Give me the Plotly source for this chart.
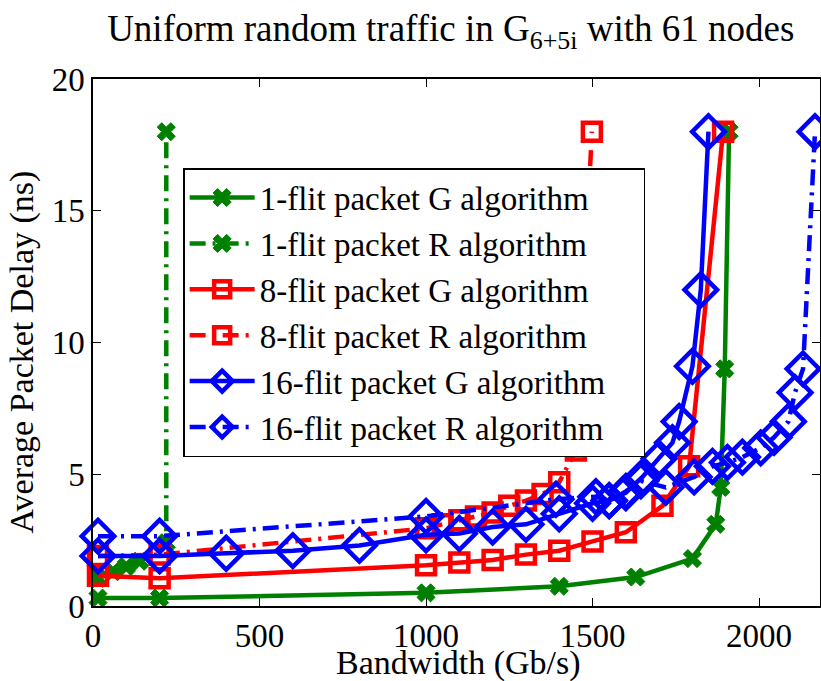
import plotly.graph_objects as go

# 1-flit packet G algorithm
g1_x = [15, 200, 1000, 1400, 1630, 1800, 1870, 1885, 1897, 1910]
g1_y = [0.3, 0.3, 0.5, 0.75, 1.1, 1.8, 3.1, 4.5, 9.0, 18.0]
# 1-flit packet R algorithm
r1_x = [15, 60, 100, 140, 220, 220]
r1_y = [1.05, 1.3, 1.5, 1.7, 2.4, 18.0]
# 8-flit packet G algorithm
g8_x = [15, 200, 1000, 1100, 1200, 1300, 1400, 1500, 1600, 1710, 1790, 1892]
g8_y = [1.15, 1.05, 1.55, 1.65, 1.75, 1.95, 2.1, 2.45, 2.8, 3.8, 5.3, 18.0]
# 8-flit packet R algorithm
r8_x = [15, 200, 1000, 1050, 1100, 1150, 1200, 1250, 1300, 1350, 1400, 1450, 1498]
r8_y = [1.9, 1.95, 2.95, 3.1, 3.25, 3.4, 3.55, 3.8, 4.0, 4.25, 4.7, 5.9, 18.0]
# 16-flit packet G algorithm
g16_x = [15, 200, 400, 600, 800, 1000, 1100, 1200, 1300, 1400, 1500, 1550, 1600,
         1650, 1700, 1740, 1760, 1800, 1825, 1848]
g16_y = [1.9, 1.9, 2.0, 2.1, 2.3, 2.7, 2.75, 3.0, 3.1, 3.5, 3.9, 4.0, 4.3,
         4.9, 5.6, 6.2, 7.0, 9.1, 12.0, 18.0]
# 16-flit packet R algorithm
r16_x = [15, 200, 1000, 1390, 1510, 1550, 1600, 1645, 1720, 1805, 1860, 1905,
         1950, 2005, 2045, 2088, 2108, 2132, 2168]
r16_y = [2.65, 2.65, 3.4, 4.05, 4.15, 4.0, 4.35, 4.75, 4.5, 4.9, 5.3, 5.45,
         5.65, 6.0, 6.4, 7.0, 8.1, 9.0, 18.0]

names = ["1-flit packet G algorithm", "1-flit packet R algorithm",
         "8-flit packet G algorithm", "8-flit packet R algorithm",
         "16-flit packet G algorithm", "16-flit packet R algorithm"]

x_ticks = [0, 500, 1000, 1500, 2000]
y_ticks = [0, 5, 10, 15, 20]

GREEN = "#008000"
RED = "#FF0000"
BLUE = "#0000FF"
DASHDOT = "16px,7px,3px,7px"
PAD = "\u00a0" * 4

fig = go.Figure()

def add(x, y, name, color, dash, symbol, size, lw):
    fig.add_trace(go.Scatter(
        x=x, y=y, name=name + PAD, mode="lines+markers", cliponaxis=False,
        line=dict(color=color, width=4.5, dash=dash),
        marker=dict(symbol=symbol, size=size, color=color,
                    line=dict(color=color, width=lw)),
    ))

add(g1_x, g1_y, names[0], GREEN, "solid", "x", 16, 1)
add(r1_x, r1_y, names[1], GREEN, DASHDOT, "x", 16, 1)
add(g8_x, g8_y, names[2], RED, "solid", "square-open", 18, 4.5)
add(r8_x, r8_y, names[3], RED, DASHDOT, "square-open", 18, 4.5)
add(g16_x, g16_y, names[4], BLUE, "solid", "diamond-open", 25, 4.5)
add(r16_x, r16_y, names[5], BLUE, DASHDOT, "diamond-open", 25, 4.5)

FONT = "Liberation Serif"

axis_common = dict(
    showgrid=False, zeroline=False, showline=True, linecolor="black",
    linewidth=1.5, mirror="ticks", ticks="inside", ticklen=8,
    tickcolor="black", automargin=False,
    tickfont=dict(size=33, color="black", family=FONT),
)

fig.update_layout(
    width=821, height=681,
    margin=dict(l=93, r=1, t=79, b=75, autoexpand=False),
    paper_bgcolor="white", plot_bgcolor="white",
    font=dict(family=FONT, color="black", size=33),
    title=dict(text="Uniform random traffic in G<sub>6+5i</sub> with 61 nodes",
               x=0.549, xanchor="center", y=0.978, yanchor="top",
               font=dict(size=37, family=FONT, color="black")),
    xaxis=dict(range=[0, 2183], tickvals=x_ticks, **axis_common),
    yaxis=dict(range=[0, 20], tickvals=y_ticks, **axis_common),
    legend=dict(x=0.124, y=0.831, xanchor="left", yanchor="top",
                bgcolor="white", bordercolor="black", borderwidth=1.5,
                font=dict(size=33, family=FONT, color="black"),
                tracegroupgap=0, itemwidth=65),
    showlegend=True,
    annotations=[
        dict(text="Bandwidth (Gb/s)", xref="paper", yref="paper",
             x=0.503, y=-0.108, xanchor="center", yanchor="middle",
             showarrow=False, font=dict(size=34, family=FONT, color="black")),
        dict(text="Average Packet Delay (ns)", xref="paper", yref="paper",
             x=-0.097, y=0.482, xanchor="center", yanchor="middle",
             textangle=-90, showarrow=False,
             font=dict(size=34, family=FONT, color="black")),
    ],
)

fig.write_html("out.html", config={"displayModeBar": False},
               post_script="document.body.style.margin='0';document.body.style.overflow='hidden';")
